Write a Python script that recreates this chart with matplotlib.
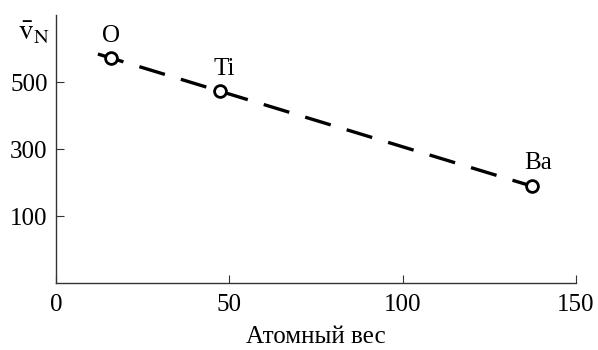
import numpy as np
import matplotlib.pyplot as plt

plt.rcParams['font.family'] = ['Liberation Serif', 'DejaVu Serif']
plt.rcParams['mathtext.fontset'] = 'stix'

# atomic weight vs. frequency
elements = ['O', 'Ti', 'Ba']
weight = [15.8, 47.3, 137.2]
nu = [572, 473, 190]
xticks = [0, 50, 100, 150]
yticks = [100, 300, 500]

fig = plt.figure(figsize=(5.98, 3.5), dpi=100)
ax = fig.add_axes([0.0936, 0.1906, 0.8696, 0.7664])

# straight fit through the points, drawn a bit past the end points
k, b = np.polyfit(weight, nu, 1)
xl = np.array([12.1, 141.0])
ax.plot(xl, k * xl + b, color='black', lw=2.4, dashes=(8, 5), dash_capstyle='butt',
        zorder=2)
ax.plot(weight, nu, 'o', ms=8.5, mfc='white', mec='black', mew=2.0, zorder=3)

offs = {'O': (0, 8), 'Ti': (3, 8), 'Ba': (5, 9)}
for name, x, y in zip(elements, weight, nu):
    ax.annotate(name, (x, y), xytext=offs[name], textcoords='offset points',
                ha='center', va='bottom', fontsize=18)

ax.set_xlim(0, 150)
ax.set_ylim(-100, 700)
ax.set_xticks(xticks)
ax.set_yticks(yticks)
ax.tick_params(direction='in', length=6, width=0.8, labelsize=18, color='#333333')
ax.tick_params(axis='x', pad=8)
ax.tick_params(axis='y', pad=6)
for s in ['top', 'right']:
    ax.spines[s].set_visible(False)
for s in ['left', 'bottom']:
    ax.spines[s].set_linewidth(1.0)
    ax.spines[s].set_color('#333333')

ax.set_xlabel('Атомный вес', fontsize=18, labelpad=7)
fig.text(0.057, 0.905, r'$\bar{\mathrm{v}}_\mathrm{N}$', fontsize=21, ha='center', va='center')

fig.savefig('out.png', dpi=100)
